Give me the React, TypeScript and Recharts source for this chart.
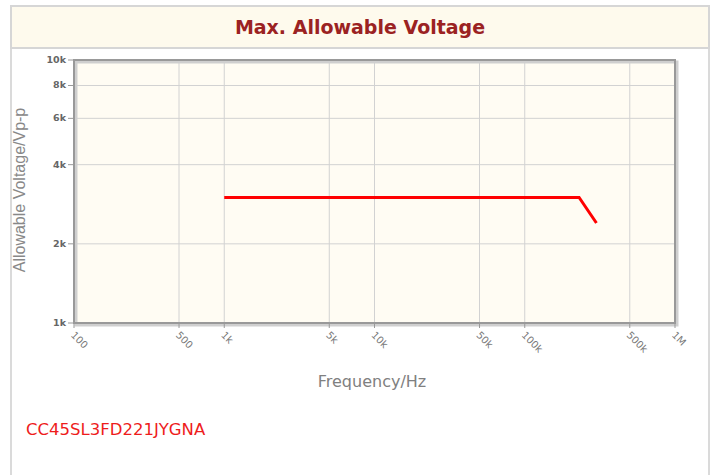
import React from 'react';
import { LineChart, Line, XAxis, YAxis, CartesianGrid, ReferenceArea } from 'recharts';

const freqHz = [1000, 230000, 300000];
const voltageVpp = [3000, 3000, 2400];
const xTicks = [100, 500, 1000, 5000, 10000, 50000, 100000, 500000, 1000000];
const xTickLabels = ['100', '500', '1k', '5k', '10k', '50k', '100k', '500k', '1M'];
const yTicks = [1000, 2000, 4000, 6000, 8000, 10000];
const yTickLabels = ['1k', '2k', '4k', '6k', '8k', '10k'];

const data = freqHz.map((f, i) => ({ f, v: voltageVpp[i] }));

const XTick = (props: any) => {
  const { x, y, payload } = props;
  const i = xTicks.indexOf(payload.value);
  return (
    <g transform={`translate(${x - 1},${y + 3})`}>
      <text x={0} y={0} dy={4} transform="rotate(45)" textAnchor="start" fontSize={10} fill="#777" fontFamily="DejaVu Sans">
        {i >= 0 ? xTickLabels[i] : ''}
      </text>
    </g>
  );
};

const YTick = (props: any) => {
  const { x, y, payload } = props;
  const i = yTicks.indexOf(payload.value);
  return (
    <text x={x} y={y} dy={3} textAnchor="end" fontSize={9.5} fontWeight="bold" fill="#666" fontFamily="DejaVu Sans">
      {i >= 0 ? yTickLabels[i] : ''}
    </text>
  );
};

const BorderShape = (props: any) => {
  const { x, y, width, height } = props;
  return (
    <g>
      <rect x={x + 2} y={y + 2} width={width} height={height} fill="none" stroke="#cfcfcf" strokeWidth={3} />
      <rect x={x} y={y} width={width} height={height} fill="none" stroke="#999" strokeWidth={2} />
    </g>
  );
};

export default function App() {
  return (
    <div style={{ position: 'absolute', left: 0, top: 0, width: 717, height: 475, background: '#fff', overflow: 'hidden' }}>
      <div style={{ position: 'absolute', left: 10, top: 5, width: 700, height: 500, border: '2px solid #dadada', boxSizing: 'border-box' }} />
      <div style={{ position: 'absolute', left: 10, top: 5, width: 700, height: 44, background: '#fefaed', border: '2px solid #d6d6d6', boxSizing: 'border-box' }} />
      <div style={{ position: 'absolute', left: 10, top: 5, width: 700, height: 44, display: 'flex', alignItems: 'center', justifyContent: 'center', fontFamily: 'DejaVu Sans', fontWeight: 'bold', fontSize: 19, color: '#9b2222' }}>
        Max. Allowable Voltage
      </div>
      <div style={{ position: 'absolute', left: 0, top: 0 }}>
        <LineChart width={717} height={475} data={data} margin={{ left: 34, right: 42, top: 60, bottom: 122 }}>
          <CartesianGrid fill="#fffcf3" stroke="#d2d2d2" strokeWidth={1} />
          <XAxis
            dataKey="f"
            type="number"
            scale="log"
            domain={[100, 1000000]}
            ticks={xTicks}
            allowDataOverflow
            axisLine={false}
            tickLine={{ stroke: '#999' }}
            tickSize={5}
            tick={<XTick />}
            height={30}
            interval={0}
          />
          <YAxis
            type="number"
            scale="log"
            domain={[1000, 10000]}
            ticks={yTicks}
            allowDataOverflow
            axisLine={false}
            tickLine={{ stroke: '#999' }}
            tickSize={6}
            tick={<YTick />}
            width={40}
            interval={0}
          />
          <ReferenceArea x1={100} x2={1000000} y1={1000} y2={10000} shape={<BorderShape />} ifOverflow="visible" />
          <Line dataKey="v" stroke="#ff0000" strokeWidth={3} dot={false} isAnimationActive={false} />
        </LineChart>
      </div>
      <div style={{ position: 'absolute', left: 12, top: 190, width: 0, height: 0 }}>
        <div style={{ position: 'absolute', transform: 'translate(-50%,-50%) rotate(-90deg)', whiteSpace: 'nowrap', fontFamily: 'Liberation Sans', fontSize: 16, color: '#888', left: 8 }}>
          Allowable Voltage/Vp-p
        </div>
      </div>
      <div style={{ position: 'absolute', left: 372, top: 381, transform: 'translate(-50%,-50%)', whiteSpace: 'nowrap', fontFamily: 'DejaVu Sans', fontSize: 16, color: '#808080' }}>
        Frequency/Hz
      </div>
      <div style={{ position: 'absolute', left: 26, top: 420, whiteSpace: 'nowrap', fontFamily: 'DejaVu Sans', fontSize: 16.5, color: '#ee1c1c' }}>
        CC45SL3FD221JYGNA
      </div>
    </div>
  );
}
